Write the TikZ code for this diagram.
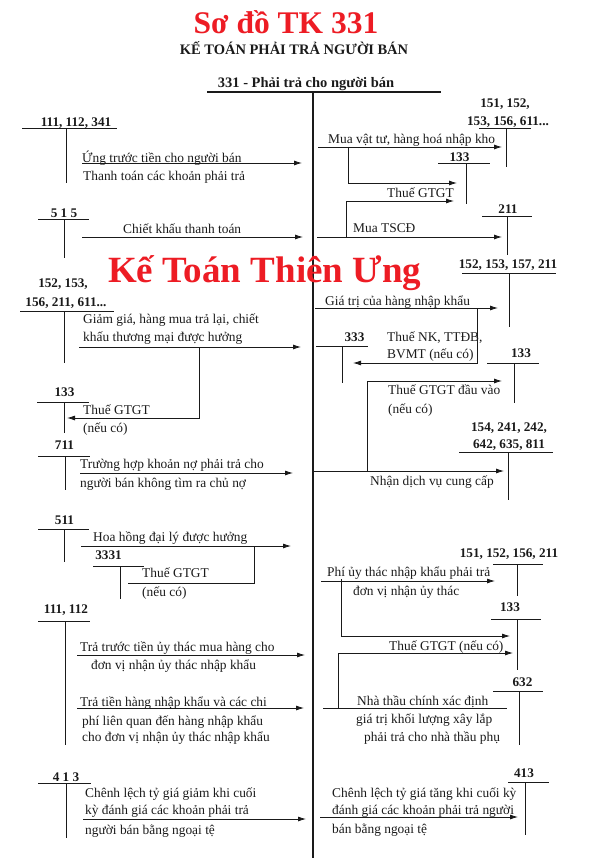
\documentclass[tikz,border=0pt]{standalone}
\usepackage{fontspec}
\setmainfont{Liberation Serif}
\usepackage{xcolor}
\usetikzlibrary{arrows.meta}
\definecolor{titlered}{HTML}{ED1C24}
\definecolor{ink}{HTML}{1A1A1A}

\begin{document}
\begin{tikzpicture}[x=1pt, y=-1pt,
  heading/.style={anchor=base, inner sep=0pt, text=titlered,
    font=\bfseries\fontsize{31.5}{34}\selectfont},
  subhead/.style={anchor=base, inner sep=0pt, text=ink,
    font=\bfseries\fontsize{14.5}{17}\selectfont},
  brand/.style={anchor=base west, inner sep=0pt, text=titlered,
    font=\bfseries\fontsize{37}{40}\selectfont},
  acct/.style={anchor=base, inner sep=0pt, text=ink,
    font=\bfseries\fontsize{13.2}{16}\selectfont},
  txt/.style={anchor=west, inner sep=0pt, yshift=-2pt, text=ink,
    text height=1.5ex, text depth=.25ex, font=\fontsize{13.4}{16}\selectfont},
  tline/.style={draw=ink, line width=1pt},
  mainline/.style={draw=ink, line width=1.6pt},
  link/.style={draw=ink, line width=0.8pt},
  arrow/.style={-{Latex[length=8pt, width=5pt]}, draw=ink, line width=0.8pt}
]
\useasboundingbox (0,0) rectangle (589,858);

% tieu de
\node[heading] (title) at (286,33.5) {Sơ đồ TK 331};
\node[subhead] (subtitle) at (294,55) {KẾ TOÁN PHẢI TRẢ NGƯỜI BÁN};
\node[subhead] (main) at (306,88) {331 - Phải trả cho người bán};
\coordinate (mainL) at (207,92);
\coordinate (mainR) at (441,92);
\coordinate (mainT) at (313,92);
\coordinate (mainB) at (313,858);
\draw[mainline] (mainL) -- (mainR);
\draw[mainline] (mainT) -- (mainB);

\node[brand] (brand) at (108,283) {Kế Toán Thiên Ưng};

% ben trai: cac tai khoan doi ung
\node[acct] (t111a) at (76,126.5) {111, 112, 341};
\draw[tline] (22,129) -- (117,129);
\draw[tline] (66,129) -- (66,183);
\node[acct] (t515) at (64,217.5) {5 1 5};
\draw[tline] (38,220) -- (89,220);
\draw[tline] (64,220) -- (64,258);
\node[acct] (t152a) at (63,287.5) {152, 153,};
\node[acct] (t152b) at (66,306.5) {156, 211, 611...};
\draw[tline] (20,311) -- (114,311);
\draw[tline] (64,311) -- (64,363);
\node[acct] (t133a) at (64.5,396.5) {133};
\draw[tline] (37,402) -- (89,402);
\draw[tline] (64,402) -- (64,433);
\node[acct] (t711) at (64.5,449.5) {711};
\draw[tline] (38,456) -- (90,456);
\draw[tline] (65,456) -- (65,490);
\node[acct] (t511) at (64.5,524.5) {511};
\draw[tline] (38,529) -- (89,529);
\draw[tline] (64,529) -- (64,562);
\node[acct] (t3331) at (108.5,559.5) {3331};
\draw[tline] (93,566) -- (144,566);
\draw[tline] (120,566) -- (120,599);
\node[acct] (t111b) at (66,613.5) {111, 112};
\draw[tline] (38,621) -- (90,621);
\draw[tline] (65,621) -- (65,745);
\node[acct] (t413a) at (66,781.5) {4 1 3};
\draw[tline] (38,783) -- (91,783);
\draw[tline] (66,783) -- (66,838);

% ben trai: nghiep vu
\coordinate (a1s) at (82,163);  \coordinate (a1e) at (302,163);
\draw[arrow] (a1s) -- (a1e);
\node[txt] (n1a) at (82,158) {Ứng trước tiền cho người bán};
\node[txt] (n1b) at (83,176) {Thanh toán các khoản phải trả};

\coordinate (a2s) at (82,237);  \coordinate (a2e) at (303,237);
\draw[arrow] (a2s) -- (a2e);
\node[txt] (n2) at (123,229) {Chiết khấu thanh toán};

\coordinate (a3s) at (79,347);  \coordinate (a3e) at (301,347);
\coordinate (a3k) at (199,347); \coordinate (a3t) at (67,418);
\draw[arrow] (a3s) -- (a3e);
\draw[arrow] (a3k) |- (a3t);
\node[txt] (n3a) at (83,319) {Giảm giá, hàng mua trả lại, chiết};
\node[txt] (n3b) at (83,337) {khấu thương mại được hưởng};
\node[txt] (n3c) at (83,410) {Thuế GTGT};
\node[txt] (n3d) at (83,428) {(nếu có)};

\coordinate (a4s) at (80,473);  \coordinate (a4e) at (293,473);
\draw[arrow] (a4s) -- (a4e);
\node[txt] (n4a) at (80,464) {Trường hợp khoản nợ phải trả cho};
\node[txt] (n4b) at (80,483) {người bán không tìm ra chủ nợ};

\coordinate (a5s) at (81,546);  \coordinate (a5e) at (291,546);
\coordinate (a5k) at (254,546); \coordinate (a5t) at (128,583);
\draw[arrow] (a5s) -- (a5e);
\draw[link] (a5k) |- (a5t);
\node[txt] (n5a) at (93,537) {Hoa hồng đại lý được hưởng};
\node[txt] (n5b) at (142,573) {Thuế GTGT};
\node[txt] (n5c) at (142,592) {(nếu có)};

\coordinate (a6s) at (77,655);  \coordinate (a6e) at (305,655);
\draw[arrow] (a6s) -- (a6e);
\node[txt] (n6a) at (80,647) {Trả trước tiền ủy thác mua hàng cho};
\node[txt] (n6b) at (91,665) {đơn vị nhận ủy thác nhập khẩu};

\coordinate (a7s) at (77,708);  \coordinate (a7e) at (304,708);
\draw[arrow] (a7s) -- (a7e);
\node[txt] (n7a) at (80,702) {Trả tiền hàng nhập khẩu và các chi};
\node[txt] (n7b) at (82,721) {phí liên quan đến hàng nhập khẩu};
\node[txt] (n7c) at (82,737) {cho đơn vị nhận ủy thác nhập khẩu};

\coordinate (a8s) at (83,819);  \coordinate (a8e) at (306,819);
\draw[arrow] (a8s) -- (a8e);
\node[txt] (n8a) at (85,793) {Chênh lệch tỷ giá giảm khi cuối};
\node[txt] (n8b) at (85,810) {kỳ đánh giá các khoản phải trả};
\node[txt] (n8c) at (85,830) {người bán bằng ngoại tệ};

% ben phai: cac tai khoan doi ung
\node[acct] (t151a) at (505,107.5) {151, 152,};
\node[acct] (t151b) at (508,125.5) {153, 156, 611...};
\draw[tline] (479,129) -- (531,129);
\draw[tline] (506,129) -- (506,167);
\node[acct] (t133b) at (459.5,161.5) {133};
\draw[tline] (438,164) -- (490,164);
\draw[tline] (466,164) -- (466,204);
\node[acct] (t211) at (508,213.5) {211};
\draw[tline] (482,217) -- (532,217);
\draw[tline] (507,217) -- (507,255);
\node[acct] (t152c) at (508,268.5) {152, 153, 157, 211};
\draw[tline] (462,274) -- (556,274);
\draw[tline] (509,274) -- (509,327);
\node[acct] (t333) at (354.5,341.5) {333};
\draw[tline] (316,346) -- (368,346);
\draw[tline] (342,346) -- (342,383);
\node[acct] (t133c) at (521,357.5) {133};
\draw[tline] (487,363) -- (539,363);
\draw[tline] (514,363) -- (514,403);
\node[acct] (t154a) at (509,431.5) {154, 241, 242,};
\node[acct] (t154b) at (509,448.5) {642, 635, 811};
\draw[tline] (459,452) -- (553,452);
\draw[tline] (508,452) -- (508,500);
\node[acct] (t151c) at (509,557.5) {151, 152, 156, 211};
\draw[tline] (493,564) -- (543,564);
\draw[tline] (517,564) -- (517,596);
\node[acct] (t133d) at (510,611.5) {133};
\draw[tline] (491,619) -- (541,619);
\draw[tline] (517,619) -- (517,670);
\node[acct] (t632) at (522.5,686.5) {632};
\draw[tline] (493,691) -- (543,691);
\draw[tline] (519,691) -- (519,745);
\node[acct] (t413b) at (524,777.5) {413};
\draw[tline] (508,782) -- (549,782);
\draw[tline] (525,782) -- (525,835);

% ben phai: nghiep vu
\coordinate (b1s) at (318,147); \coordinate (b1e) at (502,147);
\coordinate (b1k) at (348,147); \coordinate (b1t) at (457,183);
\draw[arrow] (b1s) -- (b1e);
\draw[arrow] (b1k) |- (b1t);
\node[txt] (m1) at (328,139) {Mua vật tư, hàng hoá nhập kho};

\coordinate (b2s) at (317,237); \coordinate (b2e) at (502,237);
\coordinate (b2k) at (346,237); \coordinate (b2t) at (454,201);
\draw[arrow] (b2s) -- (b2e);
\draw[arrow] (b2k) |- (b2t);
\node[txt] (m2a) at (387,193) {Thuế GTGT};
\node[txt] (m2b) at (353,228) {Mua TSCĐ};

\coordinate (b3s) at (315,308); \coordinate (b3e) at (498,308);
\coordinate (b3k) at (477,308); \coordinate (b3t) at (353,363);
\draw[arrow] (b3s) -- (b3e);
\draw[arrow] (b3k) |- (b3t);
\node[txt] (m3a) at (325,301) {Giá trị của hàng nhập khẩu};
\node[txt] (m3b) at (387,337) {Thuế NK, TTĐB,};
\node[txt] (m3c) at (387,354) {BVMT (nếu có)};

\coordinate (b4s) at (313,471); \coordinate (b4e) at (504,471);
\coordinate (b4k) at (367,471); \coordinate (b4t) at (502,381);
\draw[arrow] (b4s) -- (b4e);
\draw[arrow] (b4k) |- (b4t);
\node[txt] (m4a) at (388,390) {Thuế GTGT đầu vào};
\node[txt] (m4b) at (388,409) {(nếu có)};
\node[txt] (m4c) at (370,481) {Nhận dịch vụ cung cấp};

\coordinate (b5s) at (321,581); \coordinate (b5e) at (495,581);
\coordinate (b5k) at (341,579); \coordinate (b5t) at (510,636);
\draw[arrow] (b5s) -- (b5e);
\draw[arrow] (b5k) |- (b5t);
\node[txt] (m5a) at (327,572) {Phí ủy thác nhập khẩu phải trả};
\node[txt] (m5b) at (353,591) {đơn vị nhận ủy thác};

\coordinate (b6s) at (323,708); \coordinate (b6e) at (507,708);
\coordinate (b6k) at (338,708); \coordinate (b6t) at (513,653);
\draw[link] (b6s) -- (b6e);
\draw[arrow] (b6k) |- (b6t);
\node[txt] (m6a) at (389,646) {Thuế GTGT (nếu có)};
\node[txt] (m6b) at (357,701) {Nhà thầu chính xác định};
\node[txt] (m6c) at (356,719) {giá trị khối lượng xây lắp};
\node[txt] (m6d) at (364,737) {phải trả cho nhà thầu phụ};

\coordinate (b7s) at (320,817); \coordinate (b7e) at (518,817);
\draw[arrow] (b7s) -- (b7e);
\node[txt] (m7a) at (332,793) {Chênh lệch tỷ giá tăng khi cuối kỳ};
\node[txt] (m7b) at (332,810) {đánh giá các khoản phải trả người};
\node[txt] (m7c) at (332,829) {bán bằng ngoại tệ};
\end{tikzpicture}
\end{document}
